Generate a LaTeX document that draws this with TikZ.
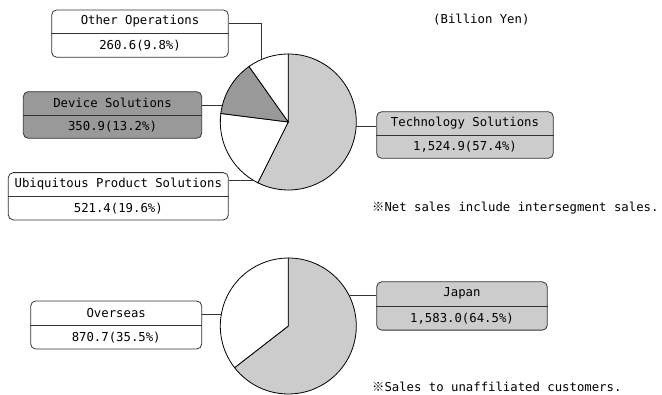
\documentclass[tikz,border=0pt]{standalone}
\usepackage{fontspec}
\setmonofont{DejaVu Sans Mono}
\newfontfamily\cjkfont{Noto Sans CJK JP}
\usetikzlibrary{calc}
\definecolor{lightgr}{HTML}{CCCCCC}
\definecolor{midgr}{HTML}{999999}
\definecolor{edgegr}{HTML}{333333}
\tikzset{
  segbox/.style={draw=edgegr, line width=0.8pt, rounded corners=5pt, inner sep=0pt},
  lbl/.style={font=\fontsize{12.3}{14}\ttfamily, inner sep=0pt, anchor=center},
  note/.style={font=\fontsize{12.3}{14}\ttfamily, inner sep=0pt, anchor=west},
  slice/.style={draw=black, line width=0.8pt},
  conn/.style={draw=edgegr, line width=0.8pt},
}
\newcommand{\kome}{{\cjkfont ※}}
\begin{document}
\begin{tikzpicture}[x=1pt,y=1pt]
\useasboundingbox (0,0) rectangle (662,395);
% pie 1
\coordinate (c1) at (288.3,273);
\def\R{68}
\filldraw[slice, fill=lightgr] (c1) -- ($(c1)+(90:\R)$) arc[start angle=90, end angle=-116.64, radius=\R] -- cycle;
\filldraw[slice, fill=white] (c1) -- ($(c1)+(-116.64:\R)$) arc[start angle=-116.64, end angle=-187.2, radius=\R] -- cycle;
\filldraw[slice, fill=midgr] (c1) -- ($(c1)+(172.8:\R)$) arc[start angle=172.8, end angle=125.28, radius=\R] -- cycle;
\filldraw[slice, fill=white] (c1) -- ($(c1)+(125.28:\R)$) arc[start angle=125.28, end angle=90, radius=\R] -- cycle;
% pie 2
\coordinate (c2) at (288.3,69);
\filldraw[slice, fill=lightgr] (c2) -- ($(c2)+(90:\R)$) arc[start angle=90, end angle=-142.2, radius=\R] -- cycle;
\filldraw[slice, fill=white] (c2) -- ($(c2)+(-142.2:\R)$) arc[start angle=-142.2, end angle=-270, radius=\R] -- cycle;

% boxes
\node[segbox, fill=white, minimum width=176.6, minimum height=47.3] (oo) at (140,361.4) {};
\node[segbox, fill=midgr, minimum width=178.4, minimum height=46.6] (ds) at (112.5,280) {};
\node[segbox, fill=white, minimum width=220, minimum height=47.3] (ups) at (118.3,198.7) {};
\node[segbox, fill=lightgr, minimum width=176.6, minimum height=46.6] (ts) at (465,260) {};
\node[segbox, fill=white, minimum width=171, minimum height=48] (ov) at (116.2,70) {};
\node[segbox, fill=lightgr, minimum width=170.6, minimum height=48.3] (jp) at (462,89) {};

\foreach \b in {oo,ds,ups,ts,ov,jp}{
  \draw[conn] (\b.west) -- (\b.east);
}

\node[lbl] (oo1) at ($(oo.north)!0.25!(oo.south)$) {Other Operations};
\node[lbl] (oo2) at ($(oo.north)!0.75!(oo.south)$) {260.6(9.8\%)};
\node[lbl] (ds1) at ($(ds.north)!0.25!(ds.south)$) {Device Solutions};
\node[lbl] (ds2) at ($(ds.north)!0.75!(ds.south)$) {350.9(13.2\%)};
\node[lbl] (ups1) at ($(ups.north)!0.25!(ups.south)$) {Ubiquitous Product Solutions};
\node[lbl] (ups2) at ($(ups.north)!0.75!(ups.south)$) {521.4(19.6\%)};
\node[lbl] (ts1) at ($(ts.north)!0.25!(ts.south)$) {Technology Solutions};
\node[lbl] (ts2) at ($(ts.north)!0.75!(ts.south)$) {1,524.9(57.4\%)};
\node[lbl] (ov1) at ($(ov.north)!0.25!(ov.south)$) {Overseas};
\node[lbl] (ov2) at ($(ov.north)!0.75!(ov.south)$) {870.7(35.5\%)};
\node[lbl] (jp1) at ($(jp.north)!0.25!(jp.south)$) {Japan};
\node[lbl] (jp2) at ($(jp.north)!0.75!(jp.south)$) {1,583.0(64.5\%)};

% connector end points on the pies
\coordinate (oo-p) at ($(c1)+(113:\R)$);
\coordinate (oo-k) at (oo-p |- 0,371.7);
\coordinate (ds-p) at ($(c1)+(165.5:\R)$);
\coordinate (ups-p) at ($(c1)+(240:\R)$);
\coordinate (ts-p) at ($(c1)+(-3.4:\R)$);
\coordinate (ov-p) at ($(c2)+(170.1:\R)$);
\coordinate (jp-p) at ($(c2)+(26.5:\R)$);

\draw[conn] (oo-k -| oo.east) -- (oo-k) -- (oo-p);
\draw[conn] (ds-p -| ds.east) -- (ds-p);
\draw[conn] (ups-p -| ups.east) -- (ups-p);
\draw[conn] (ts-p -| ts.west) -- (ts-p);
\draw[conn] (ov-p -| ov.east) -- (ov-p);
\draw[conn] (jp-p -| jp.west) -- (jp-p);

% texts
\node[note] (unit) at (433,375) {(Billion Yen)};
\node[note] (note1) at (372,187) {\kome Net sales include intersegment sales.};
\node[note] (note2) at (372,8) {\kome Sales to unaffiliated customers.};
\end{tikzpicture}
\end{document}
